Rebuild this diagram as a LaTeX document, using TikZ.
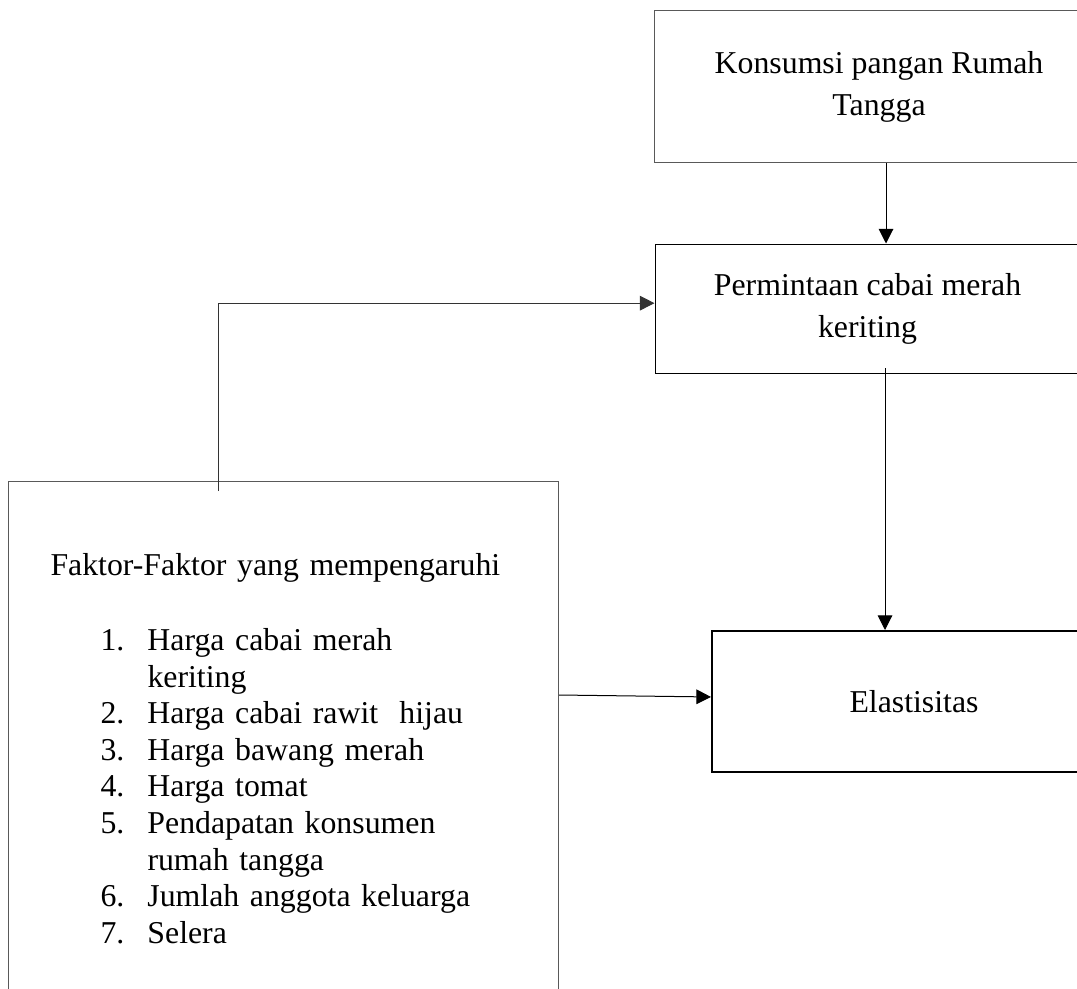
\documentclass[tikz,border=0pt]{standalone}
\usepackage{fontspec}
\setmainfont{Liberation Serif}
\usetikzlibrary{arrows.meta}

\newcommand{\faktoritem}[1]{\hspace*{37.5pt}\makebox[35.25pt][l]{#1}}
\newcommand{\faktorcont}{\hspace*{72.75pt}}

\begin{document}
\begin{tikzpicture}[x=0.75pt,y=-0.75pt,
  box/.style={draw,line width=0.75pt,align=center,inner sep=0pt,font=\fontsize{23.85pt}{31.5pt}\selectfont},
  arr/.style={line width=0.75pt,-{Triangle[length=11pt,width=11pt]}}]
\useasboundingbox (0,0) rectangle (1077,988);
\clip (0,0) rectangle (1077,988);

\node[box,draw=black!65,minimum width=337.5pt,minimum height=114pt] (konsumsi) at (879,87) {Konsumsi pangan Rumah\\Tangga};
\node[box,minimum width=318.75pt,minimum height=96.75pt] (permintaan) at (867.5,308.5) {Permintaan cabai merah\\keriting};
\node[box,line width=1.5pt,minimum width=303pt,minimum height=105.75pt] (elastisitas) at (914,701.5) {Elastisitas};

\node[box,draw=black!65,anchor=north west,align=left,text width=349.5pt,inner xsep=31.5pt,inner ysep=54pt,
  font=\fontsize{23.85pt}{27.45pt}\selectfont] (faktor) at (8,481) {Faktor-Faktor yang mempengaruhi\\[28.8pt]
  \faktoritem{1.}Harga cabai merah\\
  \faktorcont keriting\\
  \faktoritem{2.}Harga cabai rawit\ \ hijau\\
  \faktoritem{3.}Harga bawang merah\\
  \faktoritem{4.}Harga tomat\\
  \faktoritem{5.}Pendapatan konsumen\\
  \faktorcont rumah tangga\\
  \faktoritem{6.}Jumlah anggota keluarga\\
  \faktoritem{7.}Selera};

\coordinate (kp) at (886,0);
\draw[arr] (konsumsi.south -| kp) -- (permintaan.north -| kp);

\coordinate (pe) at (885,368);
\draw[arr] (pe) -- (elastisitas.north -| pe);

\coordinate (fp) at (218,491);
\draw[arr,black!80] (fp) |- ([yshift=4pt]permintaan.west);

\coordinate (fe) at (0,695);
\draw[arr] (faktor.east |- fe) -- ([yshift=3.4pt]elastisitas.west);

\end{tikzpicture}
\end{document}
